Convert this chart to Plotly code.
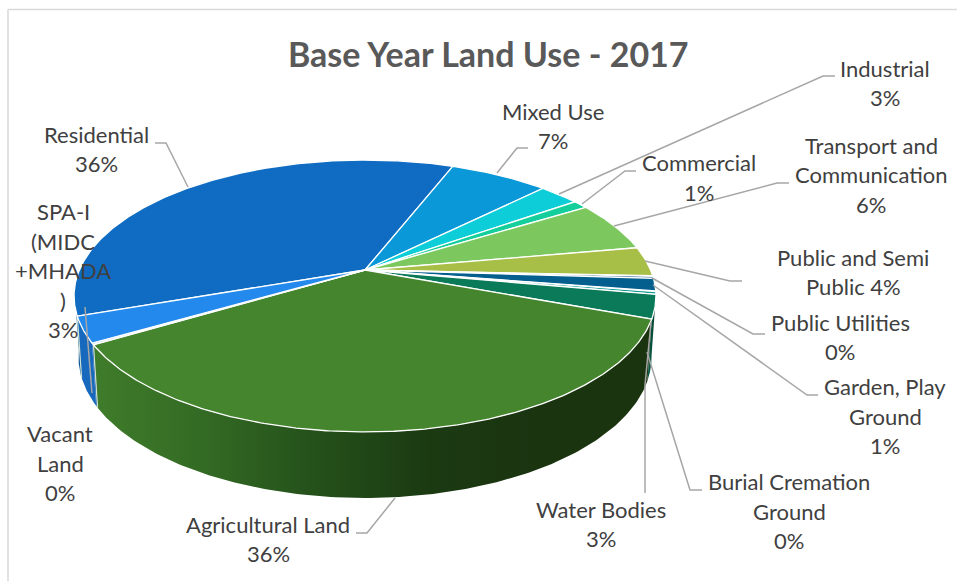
import numpy as np
import plotly.graph_objects as go

# Land use shares in percent, clockwise from the Residential slice
categories = ["Residential", "Mixed Use", "Industrial", "Commercial",
              "Transport and Communication", "Public and Semi Public",
              "Public Utilities", "Garden, Play Ground",
              "Burial Cremation Ground", "Water Bodies",
              "Agricultural Land", "Vacant Land", "SPA-I (MIDC +MHADA )"]
shares = [36.25, 6.6, 2.7, 1.0, 6.0, 3.5, 0.3, 1.49, 0.4, 2.8, 35.7, 0.2, 3.05]
title_text = "Base Year Land Use - 2017"

# Wrapped label lines; the percentage is appended from the share
label_lines = [["Residential"], ["Mixed Use"], ["Industrial"], ["Commercial"],
               ["Transport and", "Communication"], ["Public and Semi", "Public"],
               ["Public Utilities"], ["Garden, Play", "Ground"],
               ["Burial Cremation", "Ground"], ["Water Bodies"],
               ["Agricultural Land"], ["Vacant", "Land"],
               ["SPA-I", "(MIDC", "+MHADA", ")"]]

face_colors = ["#0f6cc2", "#0a98d8", "#0dcdd9", "#14cf9b", "#7cc85f", "#a8bf47",
               "#0d4a80", "#045f8e", "#0f9a94", "#0a7a58", "#44852d", "#1b6bb5",
               "#2389ec"]
wall_colors = {9: ["#0a5f48", "#07402f"],
               10: ["#3f7c2a", "#336a24", "#24501a", "#1b3a12", "#1a3410", "#1a3410"],
               11: ["#185fa3", "#185fa3"],
               12: ["#1769bd", "#1769bd"],
               0: ["#0b549a", "#0b549a"]}

# Label placement: centre x and the y of each text line
label_x = [96, 553, 885, 699, 871, 853, 840, 885, 789, 601, 268, 60, 63]
label_y = [[134, 163], [111, 140], [68, 97], [162, 192], [145, 174, 204],
           [257, 286], [322, 351], [386, 416, 445], [481, 511, 540],
           [509, 538], [524, 553], [433, 463, 492], [211, 241, 270, 300, 329]]

# Leader lines as polylines in page pixels
leaders = [
    [(155, 143), (166, 143), (188, 187)],
    [(528, 148), (517, 148), (497, 173)],
    [(835, 76), (823, 76), (559, 194)],
    [(636, 171), (625, 171), (582, 204)],
    [(789, 183), (777, 183), (614, 226)],
    [(742, 281), (730, 281), (645, 261)],
    [(765, 334), (753, 334), (652, 278)],
    [(818, 395), (807, 395), (653, 285)],
    [(702, 490), (690, 490), (647, 352)],
    [(645, 493), (645, 385), (651, 322)],
    [(356, 533), (367, 533), (395, 498)],
    [(85, 307), (92, 393)],
]

# Perspective disc: a unit circle seen from above, apex at (CX, CY)
CX, CY = 365.0, 270.0
A, B, K = 131.0, 285.6, 0.191
START_DEG = 250.7
WALL_DROP_CENTER = 61.0
WALL_SCALE_Y = 141.0 / 136.0
WALL_SCALE_X = 0.985
ELLIPSE_MID_Y = 296.0


def rim(deg):
    t = np.radians(deg)
    u, v = np.sin(t), np.cos(t)
    d = 1 + K * v
    return CX + B * u / d, CY - A * v / d


def floor(x, y):
    return CX + (x - CX) * WALL_SCALE_X, ELLIPSE_MID_Y + WALL_DROP_CENTER + (y - ELLIPSE_MID_Y) * WALL_SCALE_Y


fracs = np.array(shares) / sum(shares) * 360.0
edges = START_DEG + np.concatenate([[0], np.cumsum(fracs)])

fig = go.Figure()

# Side walls, only for the part of the disc facing the viewer
VIS_LO, VIS_HI = 99.0, 262.0
for i in range(len(shares)):
    for offset in (0.0, 360.0, -360.0):
        a0, a1 = edges[i] + offset, edges[i + 1] + offset
        lo, hi = max(a0, VIS_LO), min(a1, VIS_HI)
        if hi <= lo or i not in wall_colors:
            continue
        ts = np.linspace(lo, hi, 160)
        xt, yt = rim(ts)
        xb, yb = floor(xt, yt)
        xs = np.concatenate([xt, xb[::-1], xt[:1]])
        ys = np.concatenate([yt, yb[::-1], yt[:1]])
        stops = wall_colors[i]
        scale = [[j / (len(stops) - 1), c] for j, c in enumerate(stops)]
        fig.add_trace(go.Scatter(
            x=xs, y=ys, mode="lines", line=dict(width=0), fill="toself",
            fillgradient=dict(type="horizontal", colorscale=scale),
            hoverinfo="skip", showlegend=False))

# Pale seams between the visible wall sections
for deg in (edges[11], edges[13] - 360 + 360):
    d = deg if deg < 360 else deg - 360
    x0, y0 = rim(d)
    x1, y1 = floor(x0, y0)
    fig.add_trace(go.Scatter(x=[x0, x1], y=[y0, y1], mode="lines",
                             line=dict(color="#cfe0d0", width=1.2),
                             hoverinfo="skip", showlegend=False))

# Top face of the disc
for i, color in enumerate(face_colors):
    ts = np.linspace(edges[i], edges[i + 1], max(int(fracs[i] * 2), 6))
    xr, yr = rim(ts)
    fig.add_trace(go.Scatter(
        x=np.concatenate([[CX], xr, [CX]]), y=np.concatenate([[CY], yr, [CY]]),
        mode="lines", fill="toself", fillcolor=color,
        line=dict(color="#ffffff", width=1.3),
        name=categories[i], hoverinfo="name", showlegend=False))

for path in leaders:
    fig.add_trace(go.Scatter(x=[p[0] for p in path], y=[p[1] for p in path],
                             mode="lines", line=dict(color="#a6a6a6", width=1.5),
                             hoverinfo="skip", showlegend=False))

FONT = "Lato, Carlito, Calibri, sans-serif"
annotations = [dict(x=488, y=53, text=title_text, showarrow=False, xref="x", yref="y",
                    font=dict(family=FONT, size=34, color="#595959", weight="bold"))]
for i, lines in enumerate(label_lines):
    pct = f"{round(shares[i])}%"
    texts = list(lines)
    if i == 5:
        texts[-1] = f"{texts[-1]} {pct}"
    else:
        texts.append(pct)
    for txt, yy in zip(texts, label_y[i]):
        annotations.append(dict(x=label_x[i], y=yy, text=txt, showarrow=False,
                                xref="x", yref="y",
                                font=dict(family=FONT, size=22, color="#404040")))

frame = dict(color="#d9d9d9", width=1.5)
fig.update_layout(
    width=957, height=581, margin=dict(l=0, r=0, t=0, b=0),
    paper_bgcolor="#ffffff", plot_bgcolor="#ffffff",
    xaxis=dict(range=[0, 957], visible=False, fixedrange=True),
    yaxis=dict(range=[581, 0], visible=False, fixedrange=True),
    annotations=annotations,
    shapes=[dict(type="line", x0=8, x1=8, y0=9.5, y1=581, xref="x", yref="y", line=frame),
            dict(type="line", x0=8, x1=957, y0=9.5, y1=9.5, xref="x", yref="y", line=frame)],
)
fig.write_html("out.html")
